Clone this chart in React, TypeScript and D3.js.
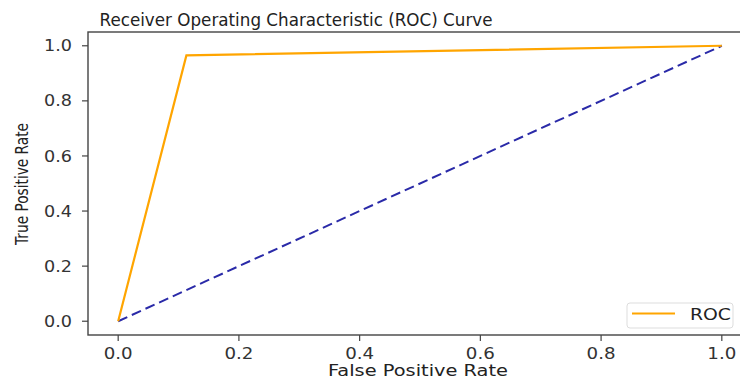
import React from "react";
import * as d3 from "d3";

// ROC curve points
const rocFpr = [0, 0.113, 1];
const rocTpr = [0, 0.965, 1];
const diagFpr = [0, 1];
const diagTpr = [0, 1];
const xTicks = [0, 0.2, 0.4, 0.6, 0.8, 1.0];
const yTicks = [0, 0.2, 0.4, 0.6, 0.8, 1.0];

const W = 740;
const H = 383;
const margin = { top: 32, right: -12, bottom: 48, left: 88 };
const font = "'DejaVu Sans', sans-serif";
const tickColor = "#444";

function App() {
  const innerW = W - margin.left - margin.right;
  const innerH = H - margin.top - margin.bottom;

  const x = d3.scaleLinear().domain([-0.05, 1.05]).range([0, innerW]);
  const y = d3.scaleLinear().domain([-0.05, 1.05]).range([innerH, 0]);

  const path = d3
    .line<[number, number]>()
    .x((d) => x(d[0]))
    .y((d) => y(d[1]));

  const rocPath = path(rocFpr.map((f, i) => [f, rocTpr[i]]));
  const diagPath = path(diagFpr.map((f, i) => [f, diagTpr[i]]));

  const fmt = d3.format(".1f");

  return (
    <svg
      width={W}
      height={H}
      style={{ position: "fixed", left: 0, top: 0, background: "#fff" }}
    >
      <text
        x={296}
        y={26}
        textAnchor="middle"
        fontFamily={font}
        fontSize={17.5}
        fill="#222"
        textLength={393}
        lengthAdjust="spacingAndGlyphs"
      >
        Receiver Operating Characteristic (ROC) Curve
      </text>
      <g transform={`translate(${margin.left},${margin.top})`}>
        <path d={diagPath ?? ""} fill="none" stroke="#2a2aa8" strokeWidth={2} strokeDasharray="10,5" />
        <path d={rocPath ?? ""} fill="none" stroke="orange" strokeWidth={2.2} strokeLinejoin="miter" />

        {/* spines */}
        <rect x={0} y={0} width={innerW} height={innerH} fill="none" stroke={tickColor} strokeWidth={1.4} />

        {xTicks.map((t) => (
          <g key={"x" + t} transform={`translate(${x(t)},${innerH})`}>
            <line y2={6} stroke={tickColor} strokeWidth={1.2} />
            <text
              y={24}
              textAnchor="middle"
              fontFamily={font}
              fontSize={15.5}
              fill="#333"
              textLength={29}
              lengthAdjust="spacingAndGlyphs"
            >
              {fmt(t)}
            </text>
          </g>
        ))}
        {yTicks.map((t) => (
          <g key={"y" + t} transform={`translate(0,${y(t)})`}>
            <line x2={-6} stroke={tickColor} strokeWidth={1.2} />
            <text
              x={-16}
              dy="0.36em"
              textAnchor="end"
              fontFamily={font}
              fontSize={15.5}
              fill="#333"
              textLength={28}
              lengthAdjust="spacingAndGlyphs"
            >
              {fmt(t)}
            </text>
          </g>
        ))}
      </g>

      <text
        x={418}
        y={376}
        textAnchor="middle"
        fontFamily={font}
        fontSize={15.5}
        fill="#222"
        textLength={180}
        lengthAdjust="spacingAndGlyphs"
      >
        False Positive Rate
      </text>
      <text
        transform={`translate(28,184) rotate(-90)`}
        textAnchor="middle"
        fontFamily={font}
        fontSize={17.5}
        fill="#222"
        textLength={122}
        lengthAdjust="spacingAndGlyphs"
      >
        True Positive Rate
      </text>

      {/* legend */}
      <g>
        <rect x={627} y={303} width={106} height={25} rx={3} fill="#fff" stroke="#ddd" strokeWidth={1} />
        <line x1={632} x2={675} y1={313.5} y2={313.5} stroke="orange" strokeWidth={2.2} />
        <text
          x={690}
          y={319.5}
          fontFamily={font}
          fontSize={16}
          fill="#222"
          textLength={41}
          lengthAdjust="spacingAndGlyphs"
        >
          ROC
        </text>
      </g>
    </svg>
  );
}

export default App;
